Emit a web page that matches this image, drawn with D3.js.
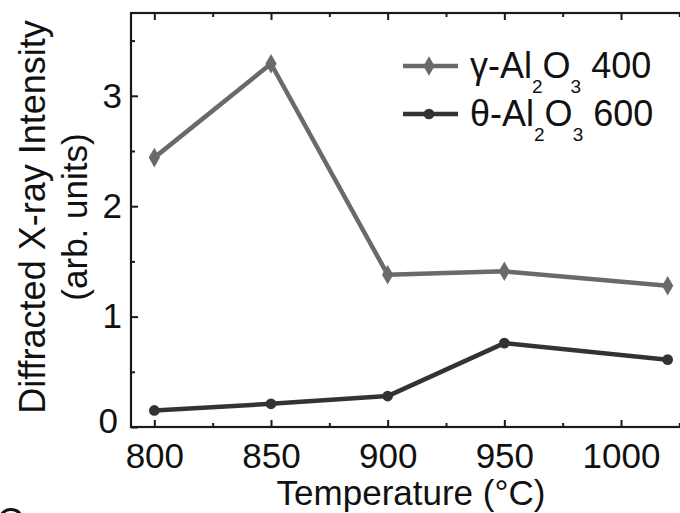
<!DOCTYPE html>
<html>
<head>
<meta charset="utf-8">
<script src="https://cdn.jsdelivr.net/npm/d3@7"></script>
<style>
  body { margin: 0; background: #fff; }
  svg { display: block; font-family: "Liberation Sans", Arial, sans-serif; }
  .axis path { display: none; }
  .axis line { stroke: #1a1a1a; stroke-width: 2; }
  .axis text { fill: #111; font-size: 35px; font-family: "Liberation Sans", Arial, sans-serif; }
</style>
</head>
<body>
<svg id="chart" width="680" height="513"></svg>
<script>
// data
const temperatures = [800, 850, 900, 950, 1020];
const gammaValues = [2.44, 3.29, 1.38, 1.41, 1.28];
const thetaValues = [0.15, 0.21, 0.28, 0.76, 0.61];

const xTicks = [800, 850, 900, 950, 1000];
const xMinorTicks = [825, 875, 925, 975, 1025];
const yTicks = [0, 1, 2, 3];
const yMinorTicks = [0.5, 1.5, 2.5, 3.5];

// legend text split into [text, sub, text, sub, text]
const legendLabels = [
  ['γ-Al', '2', 'O', '3', ' 400'],
  ['θ-Al', '2', 'O', '3', ' 600']
];

const series = [
  { values: gammaValues, color: '#6a6a6a', symbol: d3.symbolDiamond, size: 110 },
  { values: thetaValues, color: '#333333', symbol: d3.symbolCircle, size: 90 }
];

const svg = d3.select('#chart');
// right edge of the frame falls just outside the picture
const box = { left: 131, top: 13, right: 691, bottom: 427 };

const x = d3.scaleLinear().domain([790, 1030]).range([box.left, box.right]);
const y = d3.scaleLinear().domain([0, 3.75]).range([box.bottom, box.top]);

// frame
svg.append('rect')
  .attr('x', box.left).attr('y', box.top)
  .attr('width', box.right - box.left).attr('height', box.bottom - box.top)
  .attr('fill', 'none').attr('stroke', '#1a1a1a').attr('stroke-width', 2.2);

// bottom axis (ticks point inward)
svg.append('g').attr('class', 'axis')
  .attr('transform', `translate(0,${box.bottom})`)
  .call(d3.axisBottom(x).tickValues(xTicks).tickSize(-7).tickPadding(16).tickFormat(d3.format('d')));
svg.append('g').attr('class', 'axis')
  .attr('transform', `translate(0,${box.bottom})`)
  .call(d3.axisBottom(x).tickValues(xMinorTicks).tickSize(-4).tickFormat(''));

// top mirrored ticks
svg.append('g').attr('class', 'axis')
  .attr('transform', `translate(0,${box.top})`)
  .call(d3.axisTop(x).tickValues(xTicks).tickSize(-7).tickFormat(''));
svg.append('g').attr('class', 'axis')
  .attr('transform', `translate(0,${box.top})`)
  .call(d3.axisTop(x).tickValues(xMinorTicks).tickSize(-4).tickFormat(''));

// left axis
const yAxis = svg.append('g').attr('class', 'axis')
  .attr('transform', `translate(${box.left},0)`)
  .call(d3.axisLeft(y).tickValues(yTicks).tickSize(-7).tickPadding(9).tickFormat(d3.format('d')));
svg.append('g').attr('class', 'axis')
  .attr('transform', `translate(${box.left},0)`)
  .call(d3.axisLeft(y).tickValues(yMinorTicks).tickSize(-4).tickFormat(''));

// the "0" sits a bit higher and left so it clears the 800
yAxis.selectAll('.tick text').filter(d => d === 0).attr('dy', '0.15em').attr('x', -13);

// axis titles
svg.append('text')
  .attr('transform', 'translate(45,217) rotate(-90)')
  .attr('text-anchor', 'middle')
  .attr('font-size', 36).attr('fill', '#111')
  .text('Diffracted X-ray Intensity');
svg.append('text')
  .attr('transform', 'translate(87,217) rotate(-90)')
  .attr('text-anchor', 'middle')
  .attr('font-size', 35).attr('fill', '#111')
  .text('(arb. units)');
svg.append('text')
  .attr('x', 411).attr('y', 505)
  .attr('text-anchor', 'middle')
  .attr('font-size', 35).attr('fill', '#111')
  .text('Temperature (°C)');

// series
const line = d3.line()
  .x((d, i) => x(temperatures[i]))
  .y(d => y(d));

series.forEach(s => {
  svg.append('path')
    .datum(s.values)
    .attr('d', line)
    .attr('fill', 'none')
    .attr('stroke', s.color)
    .attr('stroke-width', 4.5)
    .attr('stroke-linejoin', 'round');

  svg.append('g').selectAll('path')
    .data(s.values)
    .join('path')
    .attr('transform', (d, i) => `translate(${x(temperatures[i])},${y(d)})`)
    .attr('d', d3.symbol().type(s.symbol).size(s.size))
    .attr('fill', s.color);
});

// legend
const legend = svg.append('g').attr('transform', 'translate(403,66)');
series.forEach((s, i) => {
  const row = legend.append('g').attr('transform', `translate(0,${i * 48})`);
  row.append('line')
    .attr('x1', 0).attr('x2', 55).attr('y1', 0).attr('y2', 0)
    .attr('stroke', s.color).attr('stroke-width', 4.5);
  row.append('path')
    .attr('transform', 'translate(26,0)')
    .attr('d', d3.symbol().type(s.symbol).size(s.size))
    .attr('fill', s.color);

  const t = row.append('text')
    .attr('x', 67).attr('y', 12)
    .attr('font-size', 36).attr('fill', '#111');
  legendLabels[i].forEach((part, k) => {
    const isSub = k % 2 === 1;
    t.append('tspan')
      .attr('font-size', isSub ? 19 : 36)
      .attr('dy', isSub ? 15 : (k === 0 ? 0 : -15))
      .text(part);
  });
});

// top edge of a cropped panel letter at the lower left corner
svg.append('path')
  .attr('d', d3.arc()({ innerRadius: 10, outerRadius: 13, startAngle: -1.1, endAngle: 1.0 }))
  .attr('transform', 'translate(11,521)')
  .attr('fill', '#111');
</script>
</body>
</html>
